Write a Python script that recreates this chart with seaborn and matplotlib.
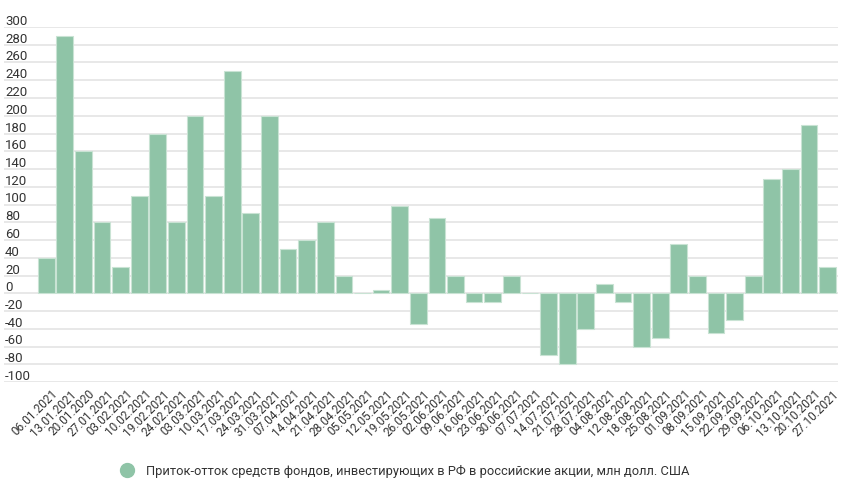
import matplotlib
matplotlib.use("Agg")
import matplotlib.pyplot as plt
import matplotlib.transforms as mtransforms
from matplotlib.lines import Line2D
import seaborn as sns
import pandas as pd

dates = [
    "06.01.2021", "13.01.2021", "20.01.2020", "27.01.2021", "03.02.2021",
    "10.02.2021", "19.02.2021", "24.02.2021", "03.03.2021", "10.03.2021",
    "17.03.2021", "24.03.2021", "31.03.2021", "07.04.2021", "14.04.2021",
    "21.04.2021", "28.04.2021", "05.05.2021", "12.05.2021", "19.05.2021",
    "26.05.2021", "02.06.2021", "09.06.2021", "16.06.2021", "23.06.2021",
    "30.06.2021", "07.07.2021", "14.07.2021", "21.07.2021", "28.07.2021",
    "04.08.2021", "12.08.2021", "18.08.2021", "25.08.2021", "01.09.2021",
    "08.09.2021", "15.09.2021", "22.09.2021", "29.09.2021", "06.10.2021",
    "13.10.2021", "20.10.2021", "27.10.2021",
]
flows = [
    40, 290, 160, 80, 30,
    110, 180, 80, 200, 110,
    250, 90, 200, 50, 60,
    80, 20, 0, 4, 98,
    -35, 85, 20, -10, -10,
    20, 0, -70, -80, -40,
    10, -10, -60, -50, 55,
    20, -45, -30, 20, 129,
    140, 190, 30,
]
y_ticks = list(range(-100, 301, 20))
series_name = "Приток-отток средств фондов, инвестирующих в РФ в российские акции, млн долл. США"

bar_color = "#8fc4a7"
text_color = "#333333"

sns.set_theme(style="white")
plt.rcParams["font.family"] = ["Roboto", "DejaVu Sans"]

df = pd.DataFrame({"date": dates, "flow": flows})

fig = plt.figure(figsize=(8.63, 4.95), dpi=100)
ax = fig.add_axes([4 / 863, 1 - 382 / 495, 834 / 863, 355 / 495])

sns.barplot(data=df, x="date", y="flow", color=bar_color, saturation=1,
            width=0.9, edgecolor="#c9e3d4", linewidth=0.8, ax=ax, zorder=3)

ax.set_ylim(-100, 300)
ax.set_xlim(-2.27, 42.56)
ax.set_yticks(y_ticks)
ax.set_yticklabels([str(v) for v in y_ticks])
ax.grid(axis="y", color="#e4e4e4", lw=1.2, zorder=0)
ax.set_axisbelow(True)
for s in ax.spines.values():
    s.set_visible(False)
ax.set_xlabel("")
ax.set_ylabel("")

# y labels sit above their grid lines, inside the plot
ax.tick_params(axis="y", length=0, pad=0, labelsize=9.5, labelcolor=text_color)
offset = mtransforms.ScaledTranslation(1 / 100, 2 / 100, fig.dpi_scale_trans)
for lbl in ax.get_yticklabels():
    lbl.set_horizontalalignment("left")
    lbl.set_verticalalignment("baseline")
    lbl.set_transform(lbl.get_transform() + offset)

ax.tick_params(axis="x", length=0, pad=4, labelsize=8.5, labelcolor=text_color)
ax.set_xticks(range(len(dates)))
ax.set_xticklabels(dates, rotation=45, ha="right", va="top",
                   rotation_mode="anchor")
xoff = mtransforms.ScaledTranslation(5 / 100, 0, fig.dpi_scale_trans)
for lbl in ax.get_xticklabels():
    lbl.set_transform(lbl.get_transform() + xoff)

handle = Line2D([], [], marker="o", linestyle="none", markersize=10,
                markerfacecolor=bar_color, markeredgecolor=bar_color)
fig.legend(handles=[handle], labels=[series_name], loc="center",
           bbox_to_anchor=(405 / 863, 1 - 471 / 495), frameon=False,
           fontsize=9.3, labelcolor=text_color, handletextpad=1.0,
           handlelength=1.0)

fig.savefig("out.png", dpi=100)
